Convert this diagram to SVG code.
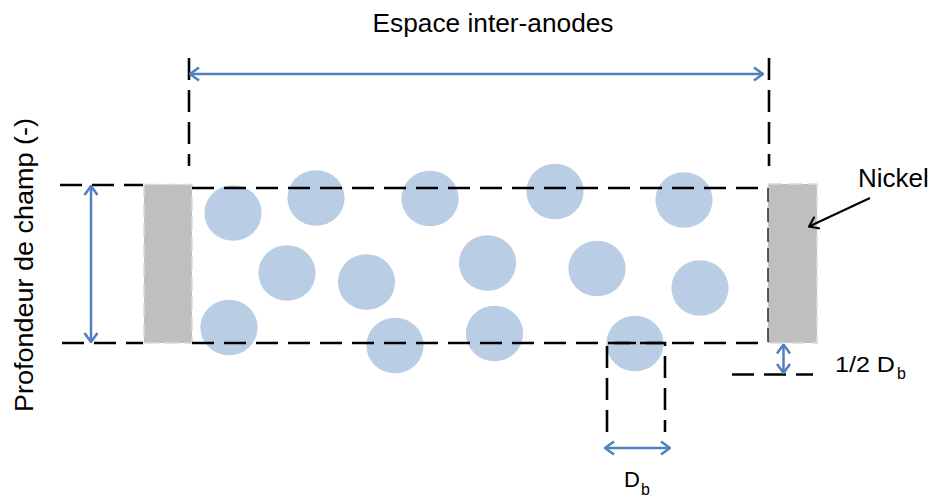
<svg xmlns="http://www.w3.org/2000/svg" width="932" height="497" viewBox="0 0 932 497">
<style>
.t{font-family:"Liberation Sans",Arial,sans-serif;fill:#000}
.dash{stroke:#000;stroke-width:2.6;stroke-dasharray:22 10;fill:none}
.bub{fill:#B9CDE5}
.blue{stroke:#4F81BD;stroke-width:2.5;fill:none}
.blk{stroke:#000;stroke-width:2;fill:none}
.ni{fill:#BFBFBF}
</style>
<defs>
<marker id="mb" viewBox="0 0 12 16" refX="11" refY="8" markerWidth="12" markerHeight="16" markerUnits="userSpaceOnUse" orient="auto-start-reverse">
<path d="M2,1.5 L11,8 L2,14.5" fill="none" stroke="#4F81BD" stroke-width="2.5"/>
</marker>
<marker id="mk" viewBox="0 0 12 16" refX="11" refY="8" markerWidth="12" markerHeight="16" markerUnits="userSpaceOnUse" orient="auto">
<path d="M2,1.5 L11,8 L2,14.5" fill="none" stroke="#000" stroke-width="2"/>
</marker>
</defs>
<rect width="932" height="497" fill="#fff"/>

<g id="bubbles">
<ellipse class="bub" cx="233" cy="213" rx="28.6" ry="27.8"/>
<ellipse class="bub" cx="316" cy="198" rx="28.6" ry="27.8"/>
<ellipse class="bub" cx="430" cy="198.5" rx="28.6" ry="27.8"/>
<ellipse class="bub" cx="555" cy="191.5" rx="28.6" ry="27.8"/>
<ellipse class="bub" cx="684" cy="200" rx="28.6" ry="27.8"/>
<ellipse class="bub" cx="287" cy="273" rx="28.6" ry="27.8"/>
<ellipse class="bub" cx="366.5" cy="282" rx="28.6" ry="27.8"/>
<ellipse class="bub" cx="487.5" cy="263" rx="28.6" ry="27.8"/>
<ellipse class="bub" cx="597" cy="268.5" rx="28.6" ry="27.8"/>
<ellipse class="bub" cx="700" cy="288" rx="28.6" ry="27.8"/>
<ellipse class="bub" cx="229" cy="327.5" rx="28.6" ry="27.8"/>
<ellipse class="bub" cx="395" cy="345.5" rx="28.6" ry="27.8"/>
<ellipse class="bub" cx="494.5" cy="333.5" rx="28.6" ry="27.8"/>
<ellipse class="bub" cx="635" cy="343.5" rx="28.6" ry="27.8"/>
</g>

<g id="anode-left">
<rect class="ni" x="144" y="184.5" width="48" height="158.5" stroke="#DADADA" stroke-width="1.5" stroke-dasharray="14 6"/>
</g>
<g id="anode-right">
<rect class="ni" x="768" y="184" width="49" height="159" stroke="#DADADA" stroke-width="1.5" stroke-dasharray="14 6"/>
<line x1="768" y1="188" x2="768" y2="343" stroke="#000" stroke-width="1.2" stroke-dasharray="14 6"/>
</g>

<g id="connectors">
<!-- field depth guide lines -->
<line class="dash" x1="60" y1="185" x2="143" y2="185"/>
<line class="dash" x1="62" y1="343" x2="143" y2="343"/>
<line class="dash" x1="192" y1="188" x2="763" y2="188"/>
<line class="dash" x1="192" y1="343" x2="763" y2="343"/>
<!-- inter-anode guides -->
<line class="dash" x1="189" y1="58" x2="189" y2="166"/>
<line class="dash" x1="769" y1="58" x2="769" y2="166"/>
<!-- Db guides -->
<path class="dash" d="M607,432 L607,343 L665,343 L665,432" stroke-dasharray="22 10"/>
<!-- half Db guide -->
<line class="dash" x1="732" y1="374.5" x2="813" y2="374.5"/>
<!-- blue arrows -->
<line class="blue" x1="190" y1="74" x2="763" y2="74" marker-start="url(#mb)" marker-end="url(#mb)"/>
<line class="blue" x1="91" y1="186" x2="91" y2="342" marker-start="url(#mb)" marker-end="url(#mb)"/>
<line class="blue" x1="605" y1="448" x2="670" y2="448" marker-start="url(#mb)" marker-end="url(#mb)"/>
<line class="blue" x1="783.5" y1="344.5" x2="783.5" y2="373" marker-start="url(#mb)" marker-end="url(#mb)"/>
<!-- Nickel pointer -->
<line class="blk" x1="870" y1="198" x2="809" y2="226.5" marker-end="url(#mk)"/>
</g>

<g id="labels">
<text class="t" x="372.5" y="32" font-size="26" textLength="241" lengthAdjust="spacingAndGlyphs">Espace inter-anodes</text>
<text class="t" x="858" y="187" font-size="26">Nickel</text>
<text class="t" x="835" y="372" font-size="22" textLength="60" lengthAdjust="spacingAndGlyphs">1/2 D</text>
<text class="t" x="897" y="378.5" font-size="16">b</text>
<text class="t" x="624" y="487" font-size="22">D</text>
<text class="t" x="641" y="495" font-size="16">b</text>
<text class="t" transform="rotate(-90 32.5 265)" x="32.5" y="265" font-size="26" text-anchor="middle" textLength="294" lengthAdjust="spacingAndGlyphs">Profondeur de champ (-)</text>
</g>
</svg>
